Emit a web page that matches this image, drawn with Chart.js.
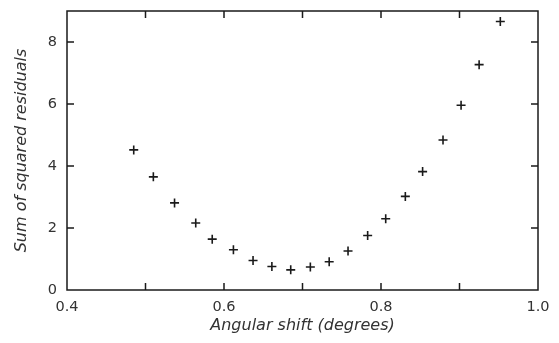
<!DOCTYPE html>
<html>
<head>
<meta charset="utf-8">
<script src="https://cdn.jsdelivr.net/npm/chart.js@4"></script>
<style>
  html, body { margin: 0; padding: 0; background: #fff; }
  #wrap { width: 559px; height: 343px; }
</style>
</head>
<body>
<div id="wrap"><canvas id="residualChart"></canvas></div>
<script>
// angular shift (degrees) and sum of squared residuals
const shiftDeg = [0.485, 0.510, 0.537, 0.564, 0.585, 0.612, 0.637, 0.661, 0.685, 0.710,
                  0.734, 0.758, 0.783, 0.806, 0.831, 0.853, 0.879, 0.902, 0.925, 0.952];
const sumSq = [4.52, 3.65, 2.81, 2.16, 1.64, 1.30, 0.95, 0.76, 0.65, 0.74,
               0.91, 1.26, 1.76, 2.30, 3.02, 3.82, 4.84, 5.96, 7.27, 8.66];

const xTickValues = [0.4, 0.5, 0.6, 0.7, 0.8, 0.9, 1.0];
const xTickLabels = ['0.4', '', '0.6', '', '0.8', '', '1.0'];
const yTickValues = [0, 2, 4, 6, 8];
const yTickLabels = ['0', '2', '4', '6', '8'];

const ink = '#1a1a1a';
const textCol = '#333';

// frame + inward tick marks on all four sides
const frameTicks = {
    id: 'frameTicks',
    afterDraw(chart) {
        const ctx = chart.ctx;
        const a = chart.chartArea;
        const xs = chart.scales.x, ys = chart.scales.y;
        const len = 7;
        ctx.save();
        ctx.strokeStyle = ink;
        ctx.lineWidth = 1.5;
        ctx.strokeRect(a.left, a.top, a.right - a.left, a.bottom - a.top);
        ctx.beginPath();
        xTickValues.forEach(v => {
            const px = xs.getPixelForValue(v);
            if (px <= a.left + 1 || px >= a.right - 1) return;
            ctx.moveTo(px, a.bottom); ctx.lineTo(px, a.bottom - len);
            ctx.moveTo(px, a.top); ctx.lineTo(px, a.top + len);
        });
        yTickValues.forEach(v => {
            const py = ys.getPixelForValue(v);
            if (py >= a.bottom - 1 || py <= a.top + 1) return;
            ctx.moveTo(a.left, py); ctx.lineTo(a.left + len, py);
            ctx.moveTo(a.right, py); ctx.lineTo(a.right - len, py);
        });
        ctx.stroke();
        ctx.restore();
    }
};

new Chart(document.getElementById('residualChart'), {
    type: 'scatter',
    data: {
        datasets: [{
            data: shiftDeg.map((x, i) => ({x: x, y: sumSq[i]})),
            pointStyle: 'cross',
            radius: 4.5,
            borderWidth: 1.6,
            borderColor: ink,
            backgroundColor: ink
        }]
    },
    options: {
        responsive: true,
        maintainAspectRatio: false,
        animation: false,
        layout: { padding: { top: 11, right: 21, left: 0, bottom: 0 } },
        plugins: { legend: { display: false }, tooltip: { enabled: false } },
        scales: {
            x: {
                type: 'linear',
                min: 0.4,
                max: 1.0,
                afterBuildTicks: s => { s.ticks = xTickValues.map(v => ({value: v})); },
                afterFit: s => { s.height = 53; s.paddingLeft = 0; s.paddingRight = 0; },
                grid: { display: false, drawTicks: false },
                border: { display: false },
                ticks: {
                    padding: 9,
                    maxRotation: 0,
                    autoSkip: false,
                    color: textCol,
                    font: { family: 'DejaVu Sans', size: 14.5 },
                    callback: (v, i) => xTickLabels[i]
                },
                title: {
                    display: true,
                    text: 'Angular shift (degrees)',
                    color: textCol,
                    padding: { top: 0, bottom: 8 },
                    font: { family: 'DejaVu Sans', size: 16, style: 'italic' }
                }
            },
            y: {
                type: 'linear',
                min: 0,
                max: 9,
                afterBuildTicks: s => { s.ticks = yTickValues.map(v => ({value: v})); },
                afterFit: s => { s.width = 67; s.paddingTop = 0; s.paddingBottom = 0; },
                grid: { display: false, drawTicks: false },
                border: { display: false },
                ticks: {
                    padding: 10,
                    color: textCol,
                    font: { family: 'DejaVu Sans', size: 14.5 },
                    callback: (v, i) => yTickLabels[i]
                },
                title: {
                    display: true,
                    text: 'Sum of squared residuals',
                    color: textCol,
                    padding: { top: 12, bottom: 0 },
                    font: { family: 'DejaVu Sans', size: 16, style: 'italic' }
                }
            }
        }
    },
    plugins: [frameTicks]
});
</script>
</body>
</html>
